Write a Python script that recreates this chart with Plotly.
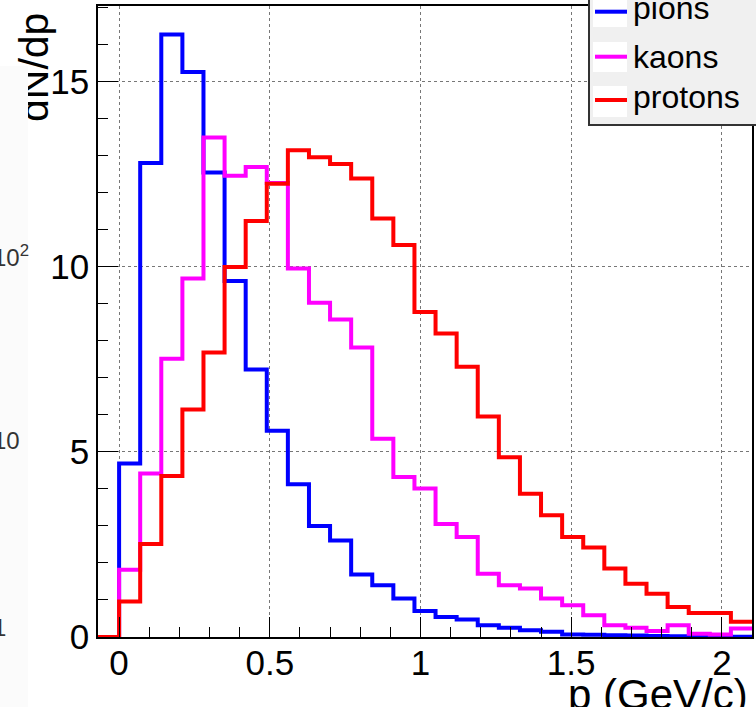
import plotly.graph_objects as go

# Momentum spectra: 31 bins of width 0.07 GeV/c from -0.07 to 2.10
bin_lo = -0.07
bin_width = 0.07
n_bins = 31

pions = [0.0, 4.69, 12.81, 16.28, 15.27, 12.55, 9.62, 7.23, 5.57, 4.13,
         3.00, 2.61, 1.69, 1.40, 1.04, 0.70, 0.54, 0.47, 0.32, 0.25,
         0.18, 0.14, 0.07, 0.06, 0.05, 0.04, 0.03, 0.02, 0.02, 0.02, 0.01]
kaons = [0.0, 1.82, 4.42, 7.52, 9.69, 13.50, 12.46, 12.70, 12.27, 9.96,
         9.03, 8.58, 7.82, 5.36, 4.32, 4.01, 3.05, 2.70, 1.71, 1.40,
         1.31, 1.04, 0.86, 0.59, 0.32, 0.25, 0.16, 0.32, 0.09, 0.07, 0.23]
protons = [0.0, 0.96, 2.51, 4.35, 6.15, 7.69, 10.00, 11.24, 12.25, 13.15,
           12.96, 12.78, 12.39, 11.31, 10.59, 8.78, 8.20, 7.30, 5.96, 4.86,
           3.87, 3.29, 2.70, 2.42, 1.85, 1.44, 1.17, 0.81, 0.65, 0.65, 0.41]

series_names = ["pions", "kaons", "protons"]
series_colors = ["#0000ff", "#ff00ff", "#ff0000"]
x_tick_vals = [0, 0.5, 1, 1.5, 2]
x_tick_text = ["0", "0.5", "1", "1.5", "2"]
y_tick_vals = [0, 5, 10, 15]
y_tick_text = ["0", "5", "10", "15"]
log_labels = ["10<sup>2</sup>", "10", "1"]

W, H = 756, 707
L, R, T, B = 98, 4, 6, 70
PW, PH = W - L - R, H - T - B
FONT = "Liberation Sans, Arial, Helvetica, sans-serif"


def px(x):
    return (x - L) / PW


def py(y):
    return (H - B - y) / PH


edges = [round(bin_lo + i * bin_width, 4) for i in range(n_bins + 1)]

fig = go.Figure()
for name, vals, col in zip(series_names, [pions, kaons, protons], series_colors):
    fig.add_trace(go.Scatter(
        x=edges, y=list(vals) + [vals[-1]], name=name, mode="lines",
        line=dict(color=col, width=4, shape="hv"), showlegend=False,
        hoverinfo="skip"))

axis_common = dict(
    showline=True, linecolor="black", linewidth=1.5, mirror=True,
    ticks="inside", ticklen=20, tickwidth=1, tickcolor="black",
    showgrid=True, gridcolor="#777", griddash="dot", gridwidth=1,
    zeroline=False, tickfont=dict(family=FONT, size=35, color="black"),
)

fig.update_xaxes(range=[edges[0], edges[-1]], tickvals=x_tick_vals,
                 ticktext=x_tick_text, ticklabelstandoff=-6,
                 minor=dict(dtick=0.1, tick0=0, ticks="inside", ticklen=10,
                            tickcolor="black", showgrid=False),
                 **axis_common)
fig.update_yaxes(range=[0, 17.05], tickvals=y_tick_vals, ticktext=y_tick_text,
                 minor=dict(dtick=1, tick0=0, ticks="inside", ticklen=10,
                            tickcolor="black", showgrid=False),
                 **axis_common)

annotations = []
# axis titles
annotations.append(dict(text="dN/dp", textangle=-90, xref="paper", yref="paper",
                        x=px(34), y=py(68), xanchor="center", yanchor="middle",
                        showarrow=False, font=dict(family=FONT, size=41, color="black")))
# neighbouring pad strip on the left edge (overlaps the lower part of the title)
annotations.append(dict(text=" ", xref="paper", yref="paper", x=px(0), y=py(66),
                        xanchor="left", yanchor="top", width=28, height=H - 66,
                        bgcolor="#fbfbfb", borderpad=0, borderwidth=0,
                        showarrow=False))
annotations.append(dict(text="p (GeV/c)", xref="paper", yref="paper",
                        x=px(750), y=py(669), xanchor="right", yanchor="top",
                        showarrow=False, font=dict(family=FONT, size=42, color="black")))
# log-scale labels of that neighbouring pad
for lab, ypix in zip(log_labels, [256, 441, 627]):
    annotations.append(dict(text=lab, xref="paper", yref="paper",
                            x=px(-9), y=py(ypix), xanchor="left", yanchor="middle",
                            showarrow=False, font=dict(family=FONT, size=24, color="#333")))

# legend box
shapes = [dict(type="rect", xref="paper", yref="paper", x0=px(589), x1=px(780),
               y0=py(125), y1=py(-20), fillcolor="#f0f0f0",
               line=dict(color="#333", width=2), layer="above")]
entry_line_y = [11.7, 56.7, 100]
entry_box = [(-5, 27), (42, 72), (86, 117)]
entry_text_y = [8, 57, 97]
for name, col, ly, (b0, b1), ty in zip(series_names, series_colors,
                                        entry_line_y, entry_box, entry_text_y):
    shapes.append(dict(type="rect", xref="paper", yref="paper", x0=px(593),
                       x1=px(627), y0=py(b1), y1=py(b0), fillcolor="white",
                       line=dict(width=0), layer="above"))
    shapes.append(dict(type="line", xref="paper", yref="paper", x0=px(595),
                       x1=px(627), y0=py(ly), y1=py(ly),
                       line=dict(color=col, width=4), layer="above"))
    annotations.append(dict(text=name, xref="paper", yref="paper", x=px(631),
                            y=py(ty), xanchor="left", yanchor="middle",
                            showarrow=False,
                            font=dict(family=FONT, size=32, color="black")))

fig.update_layout(
    width=W, height=H, margin=dict(l=L, r=R, t=T, b=B, autoexpand=False),
    paper_bgcolor="white", plot_bgcolor="white",
    shapes=shapes, annotations=annotations,
    font=dict(family=FONT),
)

fig.write_html("out.html")
